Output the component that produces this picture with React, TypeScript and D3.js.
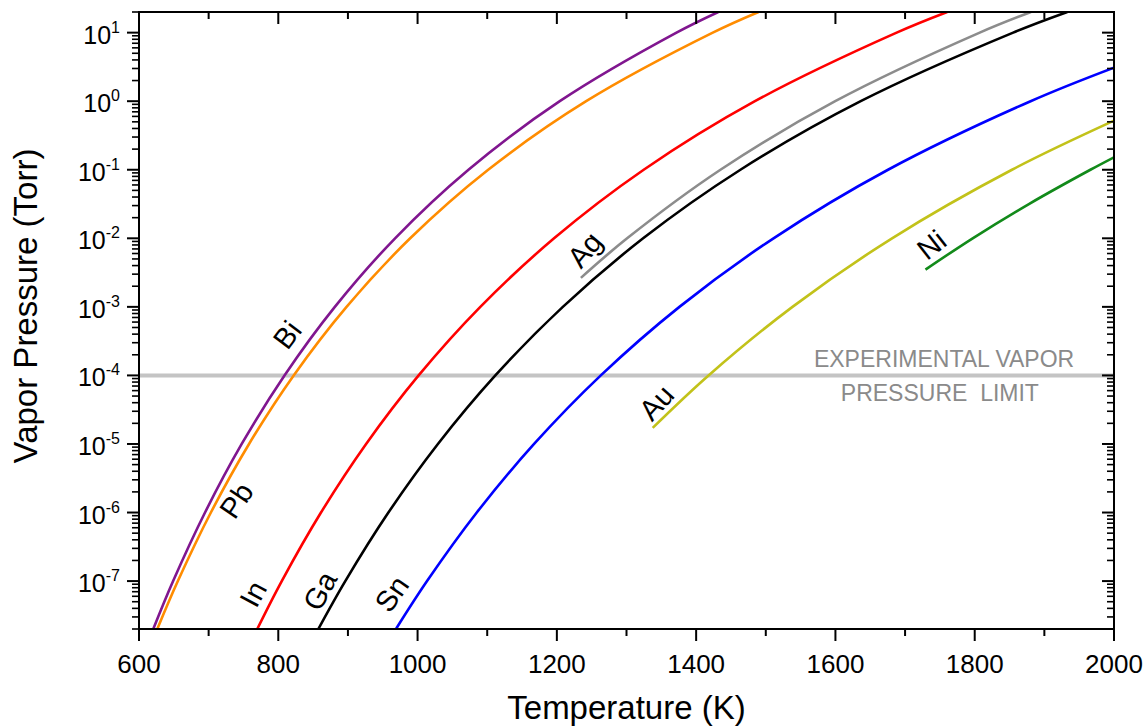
import React from "react";
import * as d3 from "d3";

// ---- Data ----
const decadesFull = [2e-8, 1e-7, 1e-6, 1e-5, 1e-4, 1e-3, 1e-2, 1e-1, 1, 10, 20];

const biT = [620.5, 649, 694.8, 747.5, 808.9, 881.2, 967.7, 1073.1, 1204.2, 1371.8, 1431.8];
const biP = decadesFull;
const pbT = [626.3, 655.8, 703.2, 758.0, 822.1, 898.0, 989.4, 1101.4, 1242.1, 1423.9, 1489.6];
const pbP = decadesFull;
const inT = [769.8, 805.0, 861.3, 926.1, 1001.5, 1090.1, 1196.0, 1324.7, 1484.4, 1687.9, 1760.5];
const inP = decadesFull;
const gaT = [857.5, 896.2, 958.1, 1029.2, 1111.7, 1208.6, 1323.9, 1463.6, 1636.3, 1855.2, 1933.0];
const gaP = decadesFull;
const agT = [1234.5, 1300.9, 1434.9, 1599.7, 1807.2, 1880.7];
const agP = [2.65e-3, 1e-2, 1e-1, 1, 10, 20];
const snT = [969.0, 1013.6, 1085.0, 1167.3, 1263.1, 1376.0, 1511.1, 1675.5, 1880.2, 2000];
const snP = [2e-8, 1e-7, 1e-6, 1e-5, 1e-4, 1e-3, 1e-2, 1e-1, 1, 3.09];
const auT = [1337.6, 1417.8, 1538.3, 1681.3, 1853.5, 2000];
const auP = [1.72e-5, 1e-4, 1e-3, 1e-2, 1e-1, 0.52];
const niT = [1729.3, 1797.1, 1877.8, 1966.1, 2000];
const niP = [3.5e-3, 1e-2, 3.16e-2, 1e-1, 0.152];

const seriesNames = ["Bi", "Pb", "In", "Ga", "Ag", "Sn", "Au", "Ni"];
const seriesT = [biT, pbT, inT, gaT, agT, snT, auT, niT];
const seriesP = [biP, pbP, inP, gaP, agP, snP, auP, niP];
const seriesColors = ["#80168f", "#ff8c00", "#ff0000", "#000000", "#8c8c8c", "#0000ff", "#c2c21a", "#128a1a"];

// label anchor positions (data coords) and rotation
const labelT = [813, 740, 764, 860, 1240, 963, 1343, 1738];
const labelP = [3.9e-4, 1.5e-6, 6.5e-8, 7.2e-8, 6.8e-3, 6.5e-8, 4.0e-5, 8.0e-3];
const labelAngle = [-53, -56, -62, -62, -50, -55, -48, -38];

const limitP = 1e-4;
const limitText = ["EXPERIMENTAL VAPOR", "PRESSURE  LIMIT"];

const xMajor = [600, 800, 1000, 1200, 1400, 1600, 1800, 2000];
const xMinor = [700, 900, 1100, 1300, 1500, 1700, 1900];
const yExponents = [-7, -6, -5, -4, -3, -2, -1, 0, 1];

const W = 1148, H = 727;
const L = 139, R = 1114, T = 12, B = 629;
const FONT = "'Liberation Sans', Arial, Helvetica, sans-serif";

export default function App() {
  const x = d3.scaleLinear().domain([600, 2000]).range([L, R]);
  const y = d3.scaleLog().domain([2e-8, 20]).range([B, T]);

  const line = d3
    .line<[number, number]>()
    .x((d) => x(d[0]))
    .y((d) => y(d[1]))
    .curve(d3.curveCatmullRom.alpha(0.5));

  const yMinor: number[] = [];
  for (let k = -8; k <= 1; k++) {
    for (let m = 2; m <= 9; m++) {
      const v = m * Math.pow(10, k);
      if (v >= 2e-8 && v <= 20) yMinor.push(v);
    }
  }

  const majLen = 12, minLen = 7;

  return (
    <svg width={W} height={H} style={{ position: "absolute", left: 0, top: 0, display: "block", background: "#fff" }} fontFamily={FONT}>
      <defs>
        <clipPath id="plotclip">
          <rect x={L} y={T} width={R - L} height={B - T} />
        </clipPath>
      </defs>

      {/* experimental limit line */}
      <line x1={L} x2={R} y1={y(limitP)} y2={y(limitP)} stroke="#c4c4c4" strokeWidth={4} />
      <text x={x(1756)} y={y(limitP) - 8} textAnchor="middle" fontSize={23} fill="#8a8a8a">{limitText[0]}</text>
      <text x={x(1750)} y={y(limitP) + 26} textAnchor="middle" fontSize={23} fill="#8a8a8a" style={{ whiteSpace: "pre" }}>{limitText[1]}</text>

      {/* curves */}
      <g clipPath="url(#plotclip)">
        {seriesNames.map((n, i) => (
          <path
            key={n}
            d={line(seriesT[i].map((t, j) => [t, seriesP[i][j]] as [number, number])) || ""}
            fill="none"
            stroke={seriesColors[i]}
            strokeWidth={2.6}
          />
        ))}
      </g>

      {/* curve labels */}
      {seriesNames.map((n, i) => (
        <text
          key={"lab" + n}
          transform={`translate(${x(labelT[i])},${y(labelP[i])}) rotate(${labelAngle[i]})`}
          textAnchor="middle"
          dominantBaseline="central"
          fontSize={29}
          fill="#000"
        >
          {n}
        </text>
      ))}

      {/* frame */}
      <rect x={L} y={T} width={R - L} height={B - T} fill="none" stroke="#000" strokeWidth={2} />

      {/* x ticks bottom (outward) and top (inward) */}
      {xMajor.map((v) => (
        <g key={"xM" + v}>
          <line x1={x(v)} x2={x(v)} y1={B} y2={B + majLen} stroke="#000" strokeWidth={2} />
          <line x1={x(v)} x2={x(v)} y1={T} y2={T + majLen} stroke="#000" strokeWidth={2} />
          <text x={x(v)} y={B + 44} textAnchor="middle" fontSize={26} fill="#000">{v}</text>
        </g>
      ))}
      {xMinor.map((v) => (
        <g key={"xm" + v}>
          <line x1={x(v)} x2={x(v)} y1={B} y2={B + minLen} stroke="#000" strokeWidth={2} />
          <line x1={x(v)} x2={x(v)} y1={T} y2={T + minLen} stroke="#000" strokeWidth={2} />
        </g>
      ))}

      {/* y ticks left (outward) and right (inward) */}
      {yExponents.map((k) => {
        const v = Math.pow(10, k);
        const yy = y(v);
        return (
          <g key={"yM" + k}>
            <line x1={L - majLen} x2={L} y1={yy} y2={yy} stroke="#000" strokeWidth={2} />
            <line x1={R - majLen} x2={R} y1={yy} y2={yy} stroke="#000" strokeWidth={2} />
            <text x={L - 19} y={yy + 11} textAnchor="end" fontSize={25} fill="#000">
              10
              <tspan fontSize={16} dy={-11}>{String(k)}</tspan>
            </text>
          </g>
        );
      })}
      {yMinor.map((v, i) => (
        <g key={"ym" + i}>
          <line x1={L - minLen} x2={L} y1={y(v)} y2={y(v)} stroke="#000" strokeWidth={1.6} />
          <line x1={R - minLen} x2={R} y1={y(v)} y2={y(v)} stroke="#000" strokeWidth={1.6} />
        </g>
      ))}

      {/* axis titles */}
      <text x={(L + R) / 2} y={719} textAnchor="middle" fontSize={33} fill="#000">Temperature (K)</text>
      <text transform={`translate(37,306) rotate(-90)`} textAnchor="middle" fontSize={33} fill="#000">Vapor Pressure (Torr)</text>
    </svg>
  );
}
